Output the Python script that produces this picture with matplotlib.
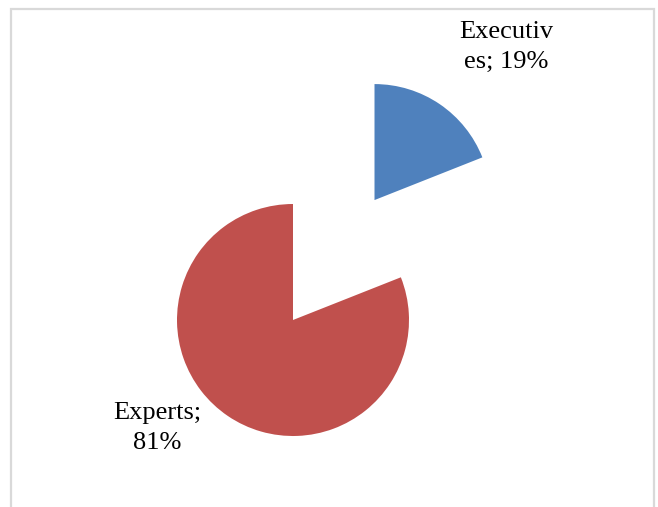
import matplotlib
matplotlib.use("Agg")
import matplotlib.pyplot as plt
from matplotlib.patches import Rectangle

categories = ["Executives", "Experts"]
shares = [19, 81]
label_texts = ["Executiv\nes; 19%", "Experts;\n81%"]
colors = ["#4F81BD", "#C0504D"]

W, H = 658, 507
fig = plt.figure(figsize=(W / 100, H / 100), dpi=100)
ax = fig.add_axes([0, 0, 1, 1])
ax.set_xlim(0, W)
ax.set_ylim(0, H)
ax.set_aspect("equal")
ax.axis("off")

# chart area frame (bottom edge falls outside the image)
ax.add_patch(Rectangle((11, -5), 643, H - 9 + 5, fill=False,
                       edgecolor="#D9D9D9", linewidth=1.6))

center = (293, H - 320)
radius = 116
# pull the Executives slice out of the pie (offset is in data units)
explode = [1.25 * radius, 0.0]
wedges, _ = ax.pie(shares, colors=colors, explode=explode, startangle=90,
                   counterclock=False, center=center, radius=radius,
                   wedgeprops=dict(linewidth=0))
ax.set_xlim(0, W)
ax.set_ylim(0, H)

label_pos = [(506, H - 47), (157, H - 428)]
for txt, (x, y) in zip(label_texts, label_pos):
    ax.text(x, y, txt, ha="center", va="center", fontsize=19,
            family="Liberation Serif", color="black", linespacing=1.42)

fig.savefig("out.png", dpi=100)
